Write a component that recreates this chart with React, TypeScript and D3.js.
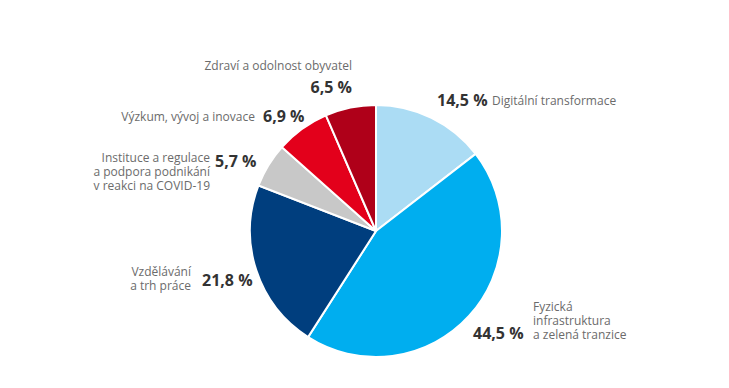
import React from 'react';
import * as d3 from 'd3';

// Podíl jednotlivých pilířů (%)
const categories = [
  'Digitální transformace',
  'Fyzická infrastruktura a zelená tranzice',
  'Vzdělávání a trh práce',
  'Instituce a regulace a podpora podnikání v reakci na COVID-19',
  'Výzkum, vývoj a inovace',
  'Zdraví a odolnost obyvatel',
];
const values = [14.5, 44.5, 21.8, 5.7, 6.9, 6.5];
const valueLabels = ['14,5 %', '44,5 %', '21,8 %', '5,7 %', '6,9 %', '6,5 %'];
const labelLines = [
  ['Digitální transformace'],
  ['Fyzická', 'infrastruktura', 'a zelená tranzice'],
  ['Vzdělávání', 'a trh práce'],
  ['Instituce a regulace', 'a podpora podnikání', 'v reakci na COVID-19'],
  ['Výzkum, vývoj a inovace'],
  ['Zdraví a odolnost obyvatel'],
];
const colors = ['#abdcf4', '#00aeef', '#003e7e', '#c8c8c8', '#e3001b', '#af0019'];

const width = 729;
const height = 388;
const cx = 376;
const cy = 231;
const radius = 126;
const lineGap = 14;

// label layout: value position + category text position
const layout = [
  { vx: 437, vy: 106, vAnchor: 'start', tx: 492, ty: 105, tAnchor: 'start' },
  { vx: 473, vy: 339, vAnchor: 'start', tx: 533, ty: 311, tAnchor: 'start' },
  { vx: 202, vy: 286, vAnchor: 'start', tx: 191, ty: 276, tAnchor: 'end' },
  { vx: 215, vy: 167, vAnchor: 'start', tx: 210, ty: 162, tAnchor: 'end' },
  { vx: 263, vy: 122, vAnchor: 'start', tx: 255, ty: 121, tAnchor: 'end' },
  { vx: 352, vy: 93, vAnchor: 'end', tx: 352, ty: 70, tAnchor: 'end' },
];

const App = () => {
  const pie = d3.pie<number>().sort(null).value(d => d);
  const arcs = pie(values);
  const arc = d3.arc<d3.PieArcDatum<number>>().innerRadius(0).outerRadius(radius);

  return (
    <svg
      width={width}
      height={height}
      style={{ position: 'absolute', left: 0, top: 0, background: '#fff' }}
      fontFamily="'Open Sans', sans-serif"
    >
      <g transform={`translate(${cx},${cy})`}>
        {arcs.map((a, i) => (
          <path key={categories[i]} d={arc(a) || ''} fill={colors[i]} stroke="#fff" strokeWidth={2} />
        ))}
      </g>
      {layout.map((l, i) => (
        <g key={i}>
          <text
            x={l.vx}
            y={l.vy}
            textAnchor={l.vAnchor}
            fontSize={16}
            fontWeight={700}
            fill="#333"
          >
            {valueLabels[i]}
          </text>
          {labelLines[i].map((line, j) => (
            <text
              key={j}
              x={l.tx}
              y={l.ty + j * lineGap}
              textAnchor={l.tAnchor}
              fontSize={12}
              fill="#6b6b6b"
            >
              {line}
            </text>
          ))}
        </g>
      ))}
    </svg>
  );
};

export default App;
